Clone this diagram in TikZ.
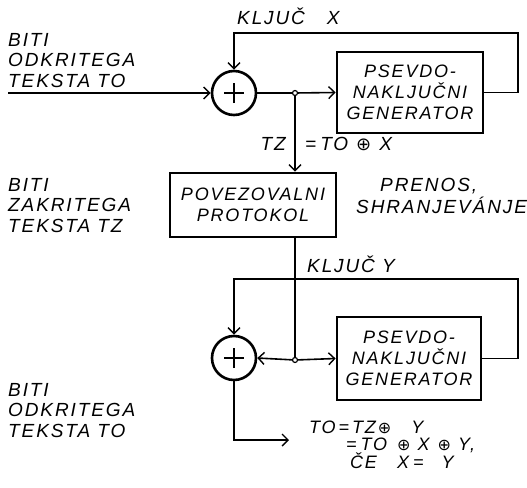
\documentclass[tikz,border=0pt]{standalone}
\usepackage{fontspec}
\setmainfont{Liberation Sans}
\newfontfamily\hw[LetterSpace=10]{Liberation Sans}
\newfontfamily\symf{DejaVu Sans}
\usetikzlibrary{arrows.meta}
\newcommand{\xo}[1]{{\symf\fontsize{#1}{#1}\selectfont ⊕}}
\begin{document}
\begin{tikzpicture}[x=1pt,y=-1pt,
  txt/.style={font=\hw\itshape\fontsize{19}{20.5}\selectfont, inner sep=0pt, align=left},
  eqtxt/.style={font=\hw\itshape\fontsize{18}{18}\selectfont, inner sep=0pt},
  boxtxt/.style={font=\hw\itshape\fontsize{18}{21}\selectfont, align=center},
  gbox/.style={draw, line width=2.8pt, boxtxt, inner sep=0pt},
  xorn/.style={circle, draw, line width=2.6pt, minimum size=44pt, inner sep=0pt},
  ln/.style={line width=1.6pt},
  arr/.style={ln, -{Straight Barb[length=6pt,width=12pt,line width=1.4pt]}},
  jn/.style={circle, draw, line width=1.2pt, inner sep=0pt, minimum size=5pt, fill=white},
  plusl/.style={line width=2.2pt}]
\useasboundingbox (0,0) rectangle (527,487);

% ---- upper part ----
\node[xorn] (x1) at (234,93) {};
\draw[plusl] ([xshift=-10pt]x1.center) -- ([xshift=10pt]x1.center);
\draw[plusl] ([yshift=-10pt]x1.center) -- ([yshift=10pt]x1.center);
\node[gbox, minimum width=146pt, minimum height=81pt] (g1) at (410,92.5) {PSEVDO-\\NAKLJUČNI\\GENERATOR};
\node[jn] (j1) at (295,93) {};
\node[gbox, minimum width=166pt, minimum height=64pt] (p) at (253,205) {POVEZOVALNI\\PROTOKOL};

\coordinate (in1) at (8,93);
\coordinate (k1a) at (518,33);
\coordinate (k1b) at (234,33);

\draw[arr] (in1) -- (x1.west);
\draw[ln] (x1.east) -- (j1);
\draw[arr] (j1) -- (g1.west);
\draw[arr] (g1.east) -| (k1a) -- (k1b) -- (x1.north);
\draw[arr] (j1) -- (j1 |- p.north);

% ---- lower part ----
\node[xorn] (x2) at (234,358) {};
\draw[plusl] ([xshift=-10pt]x2.center) -- ([xshift=10pt]x2.center);
\draw[plusl] ([yshift=-10pt]x2.center) -- ([yshift=10pt]x2.center);
\node[gbox, minimum width=144pt, minimum height=83pt] (g2) at (409,358.5) {PSEVDO-\\NAKLJUČNI\\GENERATOR};
\node[jn] (j2) at (295,360) {};

\coordinate (k2a) at (518,279);
\coordinate (k2b) at (234,279);
\coordinate (out) at (289,440);

\draw[ln] (j1 |- p.south) -- (j2);
\draw[arr] (g2.east) -| (k2a) -- (k2b) -- (x2.north);
\draw[arr] (j2) -- (x2.east);
\draw[arr] (j2) -- (g2.west);
\draw[arr] (x2.south) |- (out);

% ---- labels ----
\node[txt, anchor=north west] (t1) at (8,33) {BITI\\ODKRITEGA\\TEKSTA TO};
\node[txt, anchor=base west] (kx) at (237,25) {KLJUČ\hspace{22pt}X};
\node[txt, anchor=base east] (tz) at (286,150) {TZ};
\node[txt, anchor=base west] (tzeq) at (305,150) {=\hspace{4pt}TO\hspace{8pt}\xo{18}\hspace{8pt}X};
\node[txt, anchor=north west] (t2) at (8,178) {BITI\\ZAKRITEGA\\TEKSTA TZ};
\node[txt, anchor=north west] (pr) at (380,178) {PRENOS,};
\node[txt, anchor=base west] (sh) at (356,213) {SHRANJEVÁNJE};
\node[txt, anchor=base west] (ky) at (307,272) {KLJUČ Y};
\node[txt, anchor=north west] (t3) at (8,383) {BITI\\ODKRITEGA\\TEKSTA TO};
\node[eqtxt, anchor=base west] (r1) at (309,433) {TO\hspace{3pt}=\hspace{3pt}TZ\hspace{2pt}\xo{16}\hspace{20pt}Y};
\node[eqtxt, anchor=base west] (r2) at (346,450.5) {=\hspace{4pt}TO\hspace{10pt}\xo{16}\hspace{7pt}X\hspace{8pt}\xo{16}\hspace{7pt}Y,};
\node[eqtxt, anchor=base west] (r3) at (350,468) {ČE\hspace{20pt}X\hspace{4pt}=\hspace{18pt}Y};
\end{tikzpicture}
\end{document}
